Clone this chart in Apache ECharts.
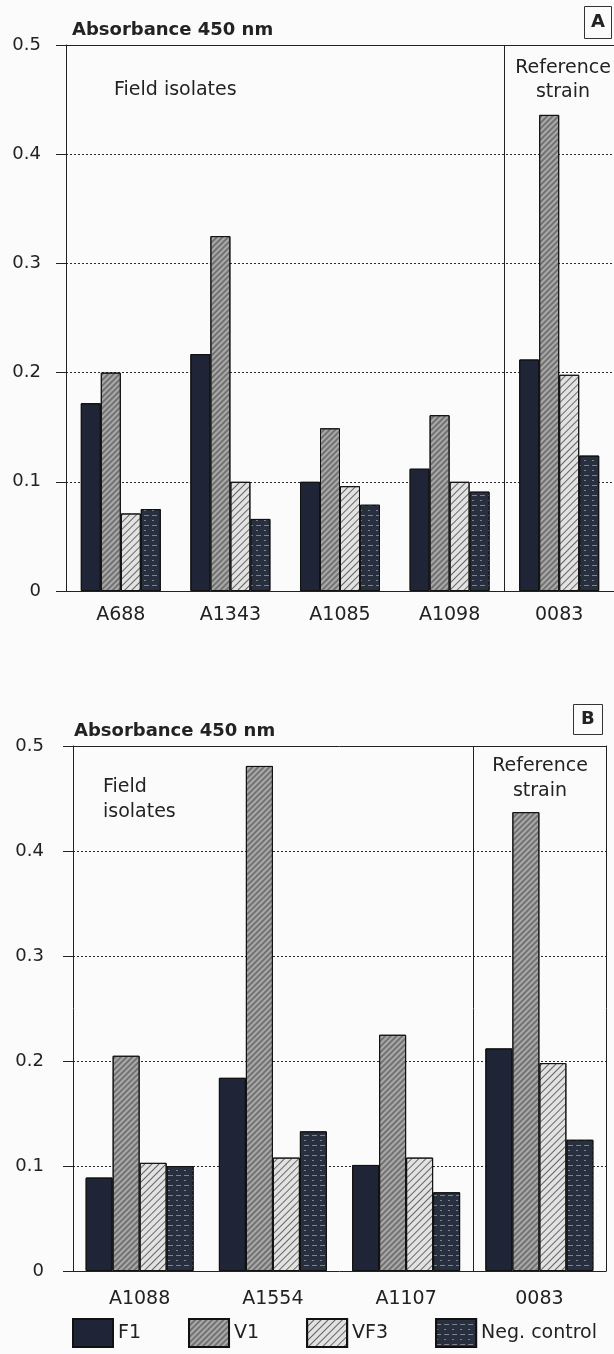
<!DOCTYPE html>
<html>
<head>
<meta charset="utf-8">
<script src="https://cdn.jsdelivr.net/npm/echarts@6/dist/echarts.min.js"></script>
<style>
html,body{margin:0;padding:0;background:#fbfbfb;}
#chart{width:614px;height:1354px;}
</style>
</head>
<body>
<div id="chart"></div>
<script>
// ---- Data ----
const categoriesA = ['A688', 'A1343', 'A1085', 'A1098', '0083'];
const f1A  = [0.172, 0.217, 0.100, 0.112, 0.212];
const v1A  = [0.200, 0.325, 0.149, 0.161, 0.436];
const vf3A = [0.071, 0.100, 0.096, 0.100, 0.198];
const negA = [0.075, 0.066, 0.079, 0.091, 0.124];

const categoriesB = ['A1088', 'A1554', 'A1107', '0083'];
const f1B  = [0.089, 0.184, 0.101, 0.212];
const v1B  = [0.205, 0.481, 0.225, 0.437];
const vf3B = [0.103, 0.108, 0.108, 0.198];
const negB = [0.100, 0.133, 0.075, 0.125];

const seriesNames = ['F1', 'V1', 'VF3', 'Neg. control'];
const yMin = 0, yMax = 0.5, yStep = 0.1;
// divider between field isolates and reference strain (boundary in category-index units)
const dividerA = 3.5;
const dividerB = 2.5;

// ---- Styles ----
const FONT = '"DejaVu Sans", "Liberation Sans", Arial, sans-serif';
const INK = '#222';
const styles = {
  'F1': { color: '#1f2437', borderColor: '#111', borderWidth: 1, decal: { symbol: 'none' } },
  'V1': { color: '#a9a9a9', borderColor: '#111', borderWidth: 1,
          decal: { symbol: 'rect', symbolSize: 1, dashArrayX: [1, 0], dashArrayY: [1.5, 2], rotation: -Math.PI / 4, color: 'rgba(70,70,70,0.55)' } },
  'VF3': { color: '#e2e2e2', borderColor: '#111', borderWidth: 1,
          decal: { symbol: 'rect', symbolSize: 1, dashArrayX: [1, 0], dashArrayY: [1, 4], rotation: -Math.PI / 4, color: 'rgba(60,60,60,0.75)' } },
  'Neg. control': { color: '#283040', borderColor: '#111', borderWidth: 1,
          decal: { symbol: 'rect', symbolSize: 1, dashArrayX: [[5, 3], [2, 6]], dashArrayY: [1, 4], rotation: 0, color: 'rgba(200,200,205,0.55)' } }
};

function valueAxis(grid, labels) {
  return {
    type: 'value', gridIndex: grid, min: yMin, max: yMax, interval: yStep, position: 'left',
    axisLine: { show: true, onZero: false, lineStyle: { color: INK, width: 1 } },
    axisTick: { show: true, length: 10, lineStyle: { color: INK } },
    axisLabel: { show: labels, color: INK, fontSize: 18, fontFamily: FONT, margin: grid === 0 ? 25 : 29 },
    splitLine: { show: true, lineStyle: { color: '#2a2a2a', type: [2, 2], width: 1 } }
  };
}

function helperAxis(grid, n) {
  return { type: 'value', gridIndex: grid, min: -0.5, max: n - 0.5, show: false,
    axisLine: { show: false, onZero: false }, axisTick: { show: false }, axisLabel: { show: false }, splitLine: { show: false } };
}

function dividerSeries(xIdx, yIdx, x) {
  return {
    type: 'line', name: '_divider', xAxisIndex: xIdx, yAxisIndex: yIdx, data: [], silent: true,
    markLine: {
      silent: true, symbol: 'none', label: { show: false },
      lineStyle: { color: INK, type: 'solid', width: 1 },
      emphasis: { disabled: true },
      data: [{ xAxis: x }]
    }
  };
}

const dataA = { 'F1': f1A, 'V1': v1A, 'VF3': vf3A, 'Neg. control': negA };
const dataB = { 'F1': f1B, 'V1': v1B, 'VF3': vf3B, 'Neg. control': negB };

const series = [];
seriesNames.forEach(n => {
  series.push({ name: n, type: 'bar', xAxisIndex: 0, yAxisIndex: 0, data: dataA[n],
    barWidth: 20, barGap: '0%', itemStyle: styles[n], emphasis: { disabled: true } });
});
seriesNames.forEach(n => {
  series.push({ name: n, type: 'bar', xAxisIndex: 2, yAxisIndex: 1, data: dataB[n],
    barWidth: 27, barGap: '0%', itemStyle: styles[n], emphasis: { disabled: true } });
});
series.push(dividerSeries(4, 0, dividerA));
series.push(dividerSeries(5, 1, dividerB));

const chart = echarts.init(document.getElementById('chart'), null, { renderer: 'canvas' });
chart.setOption({
  backgroundColor: '#fbfbfb',
  animation: false,
  aria: { enabled: true, decal: { show: true } },
  textStyle: { fontFamily: FONT },
  title: [
    { text: 'A', left: 584, top: 6, padding: [7, 7], borderWidth: 1, borderColor: '#333',
      textStyle: { fontSize: 18, fontWeight: 'bold', color: INK, fontFamily: FONT, lineHeight: 19 } },
    { text: 'B', left: 573, top: 704, padding: [6, 8], borderWidth: 1, borderColor: '#333',
      textStyle: { fontSize: 18, fontWeight: 'bold', color: INK, fontFamily: FONT, lineHeight: 19 } }
  ],
  grid: [
    { left: 66, top: 45, width: 551, height: 546 },
    { left: 73, top: 746, width: 533, height: 525 }
  ],
  xAxis: [
    { type: 'category', gridIndex: 0, data: categoriesA, position: 'bottom',
      axisLine: { show: true, onZero: false, lineStyle: { color: INK } }, axisTick: { show: false },
      axisLabel: { color: INK, fontSize: 19, fontFamily: FONT, margin: 15 },
      splitLine: { show: false } },
    { type: 'category', gridIndex: 0, data: categoriesA, position: 'top',
      axisLine: { show: true, onZero: false, lineStyle: { color: INK } }, axisTick: { show: false },
      axisLabel: { show: false }, splitLine: { show: false } },
    { type: 'category', gridIndex: 1, data: categoriesB, position: 'bottom',
      axisLine: { show: true, onZero: false, lineStyle: { color: INK } }, axisTick: { show: false },
      axisLabel: { color: INK, fontSize: 19, fontFamily: FONT, margin: 19 },
      splitLine: { show: false } },
    { type: 'category', gridIndex: 1, data: categoriesB, position: 'top',
      axisLine: { show: true, onZero: false, lineStyle: { color: INK } }, axisTick: { show: false },
      axisLabel: { show: false }, splitLine: { show: false } },
    helperAxis(0, categoriesA.length),
    helperAxis(1, categoriesB.length)
  ],
  yAxis: [
    valueAxis(0, true),
    valueAxis(1, true),
    { type: 'value', gridIndex: 1, min: yMin, max: yMax, interval: yStep, position: 'right',
      axisLine: { show: true, onZero: false, lineStyle: { color: INK } }, axisTick: { show: false },
      axisLabel: { show: false }, splitLine: { show: false } }
  ],
  legend: {
    data: seriesNames, left: 72, top: 1318, itemWidth: 40, itemHeight: 28, itemGap: 47,
    icon: 'rect', padding: 0, selectedMode: false,
    textStyle: { fontSize: 19, color: INK, fontFamily: FONT, padding: [8, 0, 0, 0] }
  },
  graphic: [
    { type: 'text', x: 72, y: 30, style: { text: 'Absorbance 450 nm', font: 'bold 18px ' + FONT, fill: INK, verticalAlign: 'middle' } },
    { type: 'text', x: 74, y: 731, style: { text: 'Absorbance 450 nm', font: 'bold 18px ' + FONT, fill: INK, verticalAlign: 'middle' } },
    { type: 'text', x: 114, y: 90, style: { text: 'Field isolates', font: '19px ' + FONT, fill: INK, verticalAlign: 'middle' } },
    { type: 'text', x: 563, y: 80, style: { text: 'Reference\nstrain', font: '19px ' + FONT, fill: INK, align: 'center', verticalAlign: 'middle', lineHeight: 24 } },
    { type: 'text', x: 103, y: 800, style: { text: 'Field\nisolates', font: '19px ' + FONT, fill: INK, verticalAlign: 'middle', lineHeight: 25 } },
    { type: 'text', x: 540, y: 779, style: { text: 'Reference\nstrain', font: '19px ' + FONT, fill: INK, align: 'center', verticalAlign: 'middle', lineHeight: 25 } }
  ],
  series: series
});
</script>
</body>
</html>
